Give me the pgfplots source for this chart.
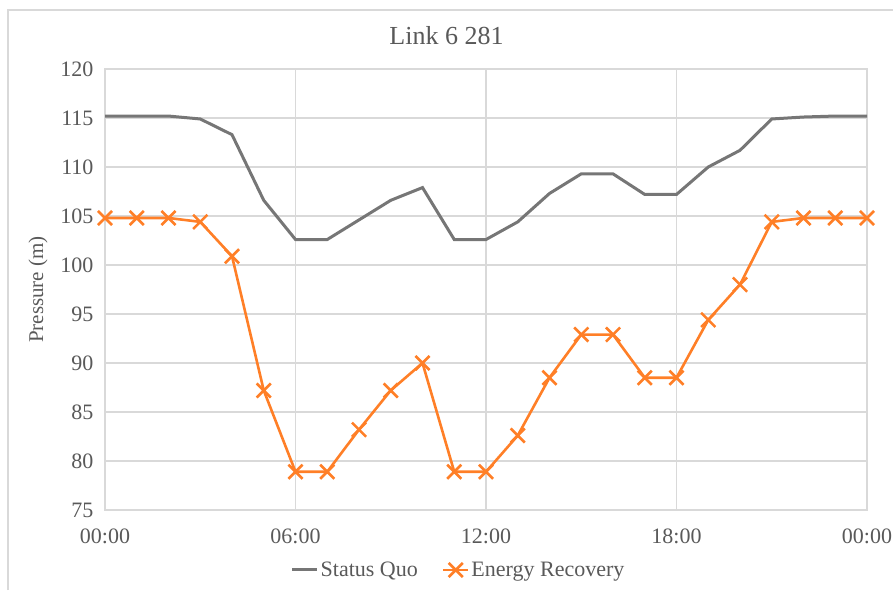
\documentclass[border=0pt]{standalone}
\usepackage{pgfplots}
\pgfplotsset{compat=1.18}
\usepackage{fontspec}
\setmainfont{Liberation Serif}
\definecolor{txt}{HTML}{595959}
\definecolor{gridc}{HTML}{D9D9D9}
\definecolor{sq}{HTML}{767676}
\definecolor{er}{HTML}{FF7F27}
\begin{document}
\begin{tikzpicture}[x=1pt,y=1pt]
\path[use as bounding box] (0,0) rectangle (893,590);
\draw[gridc, line width=1.2pt] (8,0) -- (8,580) -- (893,580);
\node[text=txt, font=\fontsize{26}{30}\selectfont] at (446.5,554) {Link 6 281};
\begin{axis}[
  at={(105pt,80pt)}, anchor=south west,
  width=762pt, height=441pt, scale only axis,
  xmin=0, xmax=24, ymin=75, ymax=120,
  xtick={0,6,12,18,24},
  xticklabels={00:00,06:00,12:00,18:00,00:00},
  ytick={75,80,...,120},
  grid=major,
  grid style={gridc, line width=1.5pt},
  axis line style={gridc, line width=1.5pt},
  tick style={draw=none},
  ticklabel style={text=txt, font=\fontsize{22}{26}\selectfont},
  /pgf/number format/assume math mode=true,
  xticklabel style={yshift=-15pt},
  yticklabel style={xshift=-8pt},
  ylabel={Pressure (m)},
  every axis y label/.style={at={(-67pt,220.5pt)}, rotate=90, anchor=center,
     text=txt, font=\fontsize{21}{25}\selectfont},
  legend columns=2,
  legend style={draw=none, fill=none, at={(0.464,-0.136)}, anchor=center,
    text=txt, font=\fontsize{22}{26}\selectfont,
    /tikz/every even column/.append style={column sep=22pt}},
  legend image code/.code={\draw[mark repeat=2,mark phase=2,#1] plot coordinates {(0pt,0pt) (12.5pt,0pt) (25pt,0pt)};},
]
\addplot[sq, line width=3pt, no markers] coordinates {
(0,115.2) (1,115.2) (2,115.2) (3,114.9) (4,113.3) (5,106.6) (6,102.6) (7,102.6)
(8,104.6) (9,106.6) (10,107.9) (11,102.6) (12,102.6) (13,104.4) (14,107.3)
(15,109.3) (16,109.3) (17,107.2) (18,107.2) (19,110.0) (20,111.7) (21,114.9)
(22,115.1) (23,115.2) (24,115.2)};
\addlegendentry{Status Quo}
\addplot[er, line width=2.6pt, mark=x, mark size=10pt, mark options={line width=2.6pt}] coordinates {
(0,104.8) (1,104.8) (2,104.8) (3,104.4) (4,100.9) (5,87.2) (6,78.9) (7,78.9)
(8,83.2) (9,87.2) (10,90.0) (11,78.9) (12,78.9) (13,82.6) (14,88.5)
(15,92.9) (16,92.9) (17,88.5) (18,88.5) (19,94.4) (20,98.0) (21,104.4)
(22,104.8) (23,104.8) (24,104.8)};
\addlegendentry{Energy Recovery}
\end{axis}
\end{tikzpicture}
\end{document}
